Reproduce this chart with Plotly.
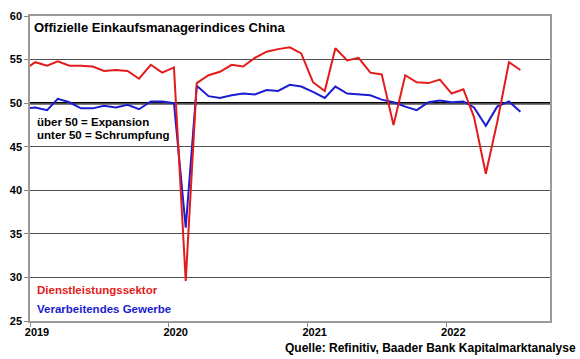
import pandas as pd
import plotly.graph_objects as go

# Monthly data Dec 2018 .. Jul 2022 (points plotted mid-month)
months = pd.date_range("2018-12-01", "2022-07-01", freq="MS") + pd.Timedelta(days=14)

dienstleistung = [53.8,
                  54.7, 54.3, 54.8, 54.3, 54.3, 54.2, 53.7, 53.8, 53.7, 52.8, 54.4, 53.5,
                  54.1, 29.6, 52.3, 53.2, 53.6, 54.4, 54.2, 55.2, 55.9, 56.2, 56.4, 55.7,
                  52.4, 51.4, 56.3, 54.9, 55.2, 53.5, 53.3, 47.5, 53.2, 52.4, 52.3, 52.7,
                  51.1, 51.6, 48.4, 41.9, 47.8, 54.7, 53.8]

verarbeitend = [49.4,
                49.5, 49.2, 50.5, 50.1, 49.4, 49.4, 49.7, 49.5, 49.8, 49.3, 50.2, 50.2,
                50.0, 35.7, 52.0, 50.8, 50.6, 50.9, 51.1, 51.0, 51.5, 51.4, 52.1, 51.9,
                51.3, 50.6, 51.9, 51.1, 51.0, 50.9, 50.4, 50.1, 49.6, 49.2, 50.1, 50.3,
                50.1, 50.2, 49.5, 47.4, 49.6, 50.2, 49.0]

year_ticks = ["2019-01-01", "2020-01-01", "2021-01-01", "2022-01-01"]
year_labels = ["2019", "2020", "2021", "2022"]
y_ticks = [25, 30, 35, 40, 45, 50, 55, 60]
threshold = 50

RED = "#e31b1b"
BLUE = "#1c1cd0"
FONT = "Liberation Sans"

fig = go.Figure()
fig.add_trace(go.Scatter(x=months, y=verarbeitend, mode="lines",
                         line=dict(color=BLUE, width=2), name="Verarbeitendes Gewerbe"))
fig.add_trace(go.Scatter(x=months, y=dienstleistung, mode="lines",
                         line=dict(color=RED, width=2), name="Dienstleistungssektor"))

fig.add_hline(y=threshold, line=dict(color="black", width=2.5), layer="below")

fig.update_layout(
    width=580, height=359,
    margin=dict(l=30, r=30, t=16, b=38, autoexpand=False),
    paper_bgcolor="white", plot_bgcolor="white",
    showlegend=False,
    font=dict(family=FONT, size=11, color="black"),
)

fig.update_xaxes(
    type="date",
    range=["2019-01-01", "2022-10-01"],
    tickvals=year_ticks, ticktext=["<b>%s</b>" % t for t in year_labels],
    ticks="outside", ticklen=4, tickcolor="#888", tickwidth=1,
    ticklabelshift=7, ticklabelstandoff=-4,
    showgrid=False, zeroline=False, automargin=False,
    showline=True, linecolor="#9a9a9a", linewidth=1.5, mirror=True,
    tickfont=dict(size=11, family=FONT, color="black"),
)
fig.update_yaxes(
    range=[25, 60],
    tickvals=y_ticks, ticktext=["<b>%d</b>" % v for v in y_ticks],
    ticks="outside", ticklen=4, tickcolor="#888", tickwidth=1,
    showgrid=True, gridcolor="#505050", gridwidth=1,
    zeroline=False, automargin=False,
    showline=True, linecolor="#9a9a9a", linewidth=1.5, mirror=True,
    tickfont=dict(size=11, family=FONT, color="black"),
)

def ann(text, x, y, color="black", size=11.5, xanchor="left"):
    fig.add_annotation(text="<b>%s</b>" % text, x=x, y=y, xref="paper", yref="paper",
                       xanchor=xanchor, yanchor="middle", showarrow=False,
                       font=dict(family=FONT, size=size, color=color))

W, H, L, T = 520.0, 305.0, 30.0, 16.0
px = lambda x: (x - L) / W
py = lambda y: (T + H - y) / H

ann("Offizielle Einkaufsmanagerindices China", px(32), py(27), size=13)
ann("über 50 = Expansion", px(35), py(121.5))
ann("unter 50 = Schrumpfung", px(35), py(134.5))
ann("Dienstleistungssektor", px(35), py(290), color=RED)
ann("Verarbeitendes Gewerbe", px(35), py(309), color=BLUE)
ann("Quelle: Refinitiv, Baader Bank Kapitalmarktanalyse", px(578), py(347.5), size=12, xanchor="right")

fig.write_html("out.html", config={"displayModeBar": False},
               post_script="document.body.style.margin='0';document.body.style.overflow='hidden';")
